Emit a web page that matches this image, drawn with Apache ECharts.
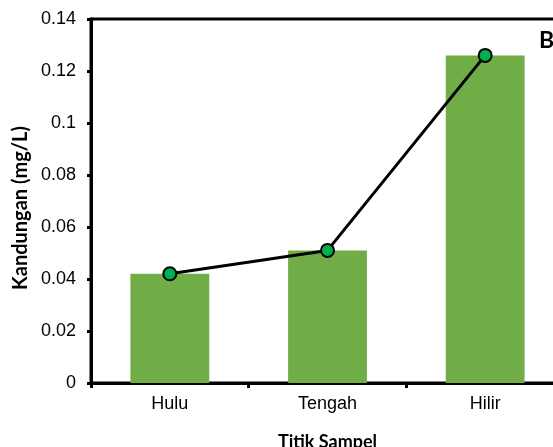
<!DOCTYPE html>
<html>
<head>
<meta charset="utf-8">
<script src="https://cdn.jsdelivr.net/npm/echarts@6/dist/echarts.min.js"></script>
<style>
  html, body { margin: 0; padding: 0; background: #fff; }
  #chart { width: 553px; height: 447px; }
</style>
</head>
<body>
<div id="chart"></div>
<script>
// Sampling points along the river and measured concentration (mg/L)
const categories = ['Hulu', 'Tengah', 'Hilir'];
const barValues = [0.042, 0.051, 0.126];
const lineValues = [0.042, 0.051, 0.126];

const chart = echarts.init(document.getElementById('chart'), null, { renderer: 'canvas' });

chart.setOption({
  animation: false,
  title: {
    text: 'B',
    left: 534,
    top: 24,
    textStyle: { fontFamily: 'Lato', fontWeight: 'bold', fontSize: 23, color: '#000' }
  },
  grid: {
    left: 91, right: -11, top: 19, bottom: 64,
    outerBoundsMode: 'none',
    containLabel: false,
    show: true, borderWidth: 3, borderColor: '#000', backgroundColor: 'transparent'
  },
  xAxis: {
    type: 'category',
    data: categories,
    name: 'Titik Sampel',
    nameLocation: 'middle',
    nameGap: 50,
    nameTextStyle: { fontFamily: 'Lato', fontWeight: 'bold', fontSize: 18, color: '#000' },
    axisLine: { lineStyle: { color: '#000', width: 3 } },
    axisTick: { show: true, alignWithLabel: false, length: 5, lineStyle: { color: '#000', width: 3 } },
    axisLabel: { fontFamily: 'Liberation Sans', fontSize: 18, color: '#000', margin: 12 },
    splitLine: { show: false }
  },
  yAxis: {
    type: 'value',
    min: 0,
    max: 0.14,
    interval: 0.02,
    name: 'Kandungan (mg/L)',
    nameLocation: 'middle',
    nameGap: 60,
    nameTextStyle: {
      fontFamily: 'Lato', fontWeight: 'bold', fontSize: 20, color: '#000',
      padding: [0, 14, 0, 0]
    },
    axisLine: { show: true, lineStyle: { color: '#000', width: 3 } },
    axisTick: { show: true, length: 4, lineStyle: { color: '#000', width: 3 } },
    axisLabel: {
      fontFamily: 'Liberation Sans', fontSize: 18, color: '#000', margin: 15,
      formatter: v => String(+v.toFixed(2))
    },
    splitLine: { show: false }
  },
  series: [
    {
      type: 'bar',
      data: barValues,
      barWidth: '50%',
      itemStyle: { color: '#70AD47' }
    },
    {
      type: 'line',
      data: lineValues,
      symbol: 'circle',
      symbolSize: 13,
      lineStyle: { color: '#000', width: 3 },
      itemStyle: { color: '#00B050', borderColor: '#000', borderWidth: 2 },
      z: 5
    }
  ]
});
</script>
</body>
</html>
